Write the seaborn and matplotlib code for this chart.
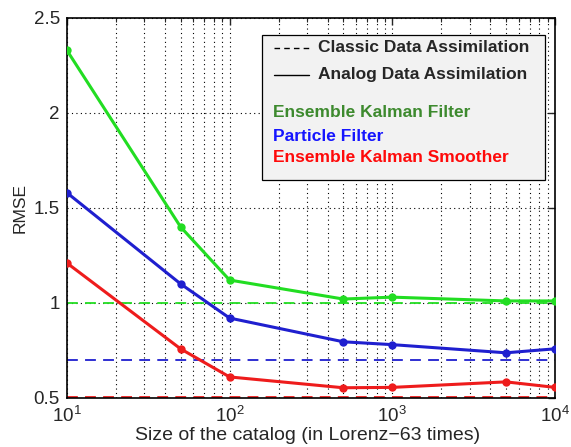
import matplotlib
matplotlib.use("Agg")
import matplotlib.pyplot as plt
import seaborn as sns
import pandas as pd
from matplotlib.patches import Rectangle
from matplotlib.lines import Line2D

catalog_sizes = [10, 50, 100, 500, 1000, 5000, 10000]
enkf_analog = [2.33, 1.40, 1.12, 1.02, 1.03, 1.01, 1.01]
pf_analog = [1.58, 1.10, 0.92, 0.795, 0.78, 0.737, 0.758]
enks_analog = [1.21, 0.758, 0.61, 0.553, 0.555, 0.584, 0.555]
classic_levels = {"Ensemble Kalman Filter": 1.00,
                  "Particle Filter": 0.70,
                  "Ensemble Kalman Smoother": 0.505}
line_colors = {"Ensemble Kalman Filter": "#22dd22",
               "Particle Filter": "#1f1fcf",
               "Ensemble Kalman Smoother": "#ee1c1c"}
text_colors = {"Ensemble Kalman Filter": "#3d8a2e",
               "Particle Filter": "#1515ff",
               "Ensemble Kalman Smoother": "#ff0a0a"}
series = {"Ensemble Kalman Filter": enkf_analog,
          "Particle Filter": pf_analog,
          "Ensemble Kalman Smoother": enks_analog}

sns.set_style("white")
plt.rcParams["font.family"] = ["Liberation Sans", "DejaVu Sans"]

fig = plt.figure(figsize=(5.71, 4.47), dpi=100)
ax = fig.add_axes([0.117, 0.110, 0.855, 0.850])

rows = []
for name, vals in series.items():
    for x, v in zip(catalog_sizes, vals):
        rows.append({"size": x, "rmse": v, "method": name})
df = pd.DataFrame(rows)

ax.set_xscale("log")
for name in series:
    ax.axhline(classic_levels[name], color=line_colors[name], lw=1.3,
               ls=(0, (6, 4)), zorder=2)
sns.lineplot(data=df, x="size", y="rmse", hue="method", palette=line_colors,
             marker="o", markersize=6, markeredgewidth=0, linewidth=2.2,
             legend=False, ax=ax, zorder=3)

ax.set_xlim(10, 10000)
ax.set_ylim(0.5, 2.5)
ax.set_yticks([0.5, 1, 1.5, 2, 2.5])
ax.set_yticklabels(["0.5", "1", "1.5", "2", "2.5"])
ax.grid(True, which="major", axis="y", color="black", ls=(0, (1, 3)), lw=0.8)
ax.grid(True, which="both", axis="x", color="black", ls=(0, (1, 3)), lw=0.8)
ax.tick_params(which="both", direction="in", top=True, right=True,
               labelsize=13.5)
ax.tick_params(axis="x", which="major", pad=6)
ax.tick_params(axis="y", which="major", pad=5)
ax.tick_params(which="major", length=5, width=1)
ax.tick_params(which="minor", length=3, width=0.8)
for s in ax.spines.values():
    s.set_color("black")
    s.set_linewidth(1.2)
ax.set_xlabel("Size of the catalog (in Lorenz\u221263 times)", fontsize=14)
ax.xaxis.set_label_coords(0.493, -0.078)
ax.set_ylabel("RMSE", fontsize=12.5)

# legend box
ax.add_patch(Rectangle((0.40, 0.574), 0.58, 0.381, transform=ax.transAxes,
                       facecolor="#f2f2f2", edgecolor="black", lw=0.9,
                       zorder=5))
ax.add_line(Line2D([0.424, 0.496], [0.921, 0.921], transform=ax.transAxes,
                   color="black", ls=(0, (4, 3)), lw=1.0, zorder=6))
ax.add_line(Line2D([0.424, 0.496], [0.850, 0.850], transform=ax.transAxes,
                   color="black", lw=1.0, zorder=6))
ax.text(0.515, 0.921, "Classic Data Assimilation", transform=ax.transAxes,
        fontsize=12.5, fontweight="bold", va="center", zorder=6)
ax.text(0.515, 0.850, "Analog Data Assimilation", transform=ax.transAxes,
        fontsize=12.5, fontweight="bold", va="center", zorder=6)
for name, yy in zip(series, [0.750, 0.688, 0.632]):
    ax.text(0.422, yy, name, transform=ax.transAxes, fontsize=12.5,
            fontweight="bold", color=text_colors[name], va="center", zorder=6)

fig.savefig("out.png", dpi=100)
